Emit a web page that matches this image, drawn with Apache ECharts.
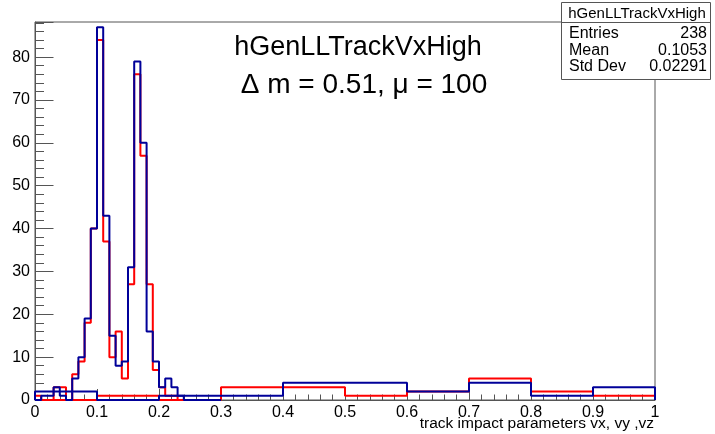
<!DOCTYPE html>
<html>
<head>
<meta charset="utf-8">
<script src="https://cdn.jsdelivr.net/npm/echarts@6/dist/echarts.min.js"></script>
<style>
  html, body { margin: 0; padding: 0; background: #fff; }
  #chart { width: 715px; height: 434px; }
</style>
</head>
<body>
<div id="chart"></div>
<script>
// Fine binning: 0.01 wide bins from 0 to 0.30
const fineEdges = [0, 0.01, 0.02, 0.03, 0.04, 0.05, 0.06, 0.07, 0.08, 0.09,
  0.10, 0.11, 0.12, 0.13, 0.14, 0.15, 0.16, 0.17, 0.18, 0.19,
  0.20, 0.21, 0.22, 0.23, 0.24, 0.25, 0.26, 0.27, 0.28, 0.29, 0.30];
const blueFine = [0, 1, 1, 3, 1, 0, 5, 10, 19, 40,
  87, 43, 15, 8, 9, 31, 79, 60, 16, 9,
  3, 5, 3, 1, 0, 0, 0, 0, 0, 0];
const redFine = [1, 0, 0, 3, 3, 0, 6, 9, 18, 40,
  84, 37, 10, 16, 5, 27, 76, 57, 27, 7,
  3, 1, 1, 0, 0, 0, 0, 0, 0, 0];

// Coarse binning: 0.1 wide bins from 0 to 1
const coarseEdges = [0, 0.1, 0.2, 0.3, 0.4, 0.5, 0.6, 0.7, 0.8, 0.9, 1.0];
const blueCoarse = [2, 0, 1, 1, 4, 4, 2, 4, 1, 3];
const redCoarse = [0, 1, 0, 3, 3, 1, 2, 5, 2, 1];

// Axis ranges and tick labels
const xTicks = [0, 0.1, 0.2, 0.3, 0.4, 0.5, 0.6, 0.7, 0.8, 0.9, 1];
const yMax = 88.2;
const yTicks = [0, 10, 20, 30, 40, 50, 60, 70, 80];

// Stats box text
const statsTitle = 'hGenLLTrackVxHigh';
const statsRows = [['Entries', '238'], ['Mean', '0.1053'], ['Std Dev', '0.02291']];

// Turn bin edges + contents into the outline of a step histogram
function stepOutline(edges, counts) {
  const pts = [[edges[0], 0]];
  counts.forEach(function (c, i) {
    pts.push([edges[i], c]);
    pts.push([edges[i + 1], c]);
  });
  pts.push([edges[edges.length - 1], 0]);
  return pts;
}

const FONT = '"Liberation Sans", Arial, Helvetica, sans-serif';
const RED = '#ff0000';
const BLUE = '#000099';
const FRAME = '#555';

function histSeries(name, edges, counts, color, z) {
  return {
    name: name,
    type: 'line',
    data: stepOutline(edges, counts),
    symbol: 'none',
    showSymbol: false,
    lineStyle: { color: color, width: 2 },
    z: z,
    animation: false,
    clip: true
  };
}

const chart = echarts.init(document.getElementById('chart'), null, { renderer: 'canvas' });

// Frame in pixels
const gridL = 35, gridR = 655, gridT = 22, gridB = 400;

function statsText(x, y, text, align, size) {
  return {
    type: 'text', x: x, y: y,
    style: { text: text, font: size + 'px ' + FONT, fill: '#000', align: align, verticalAlign: 'middle' }
  };
}

const statsChildren = [
  {
    type: 'rect', shape: { x: 561.5, y: 2.5, width: 149, height: 77 },
    style: { fill: '#fff', stroke: FRAME, lineWidth: 1 }
  },
  {
    type: 'line', shape: { x1: 561.5, y1: 22.5, x2: 710.5, y2: 22.5 },
    style: { stroke: FRAME, lineWidth: 1 }
  },
  statsText(637, 14, statsTitle, 'center', 15)
];
statsRows.forEach(function (row, i) {
  statsChildren.push(statsText(569, 34 + i * 16.2, row[0], 'left', 16));
  statsChildren.push(statsText(707, 34 + i * 16.2, row[1], 'right', 16));
});

chart.setOption({
  backgroundColor: '#fff',
  animation: false,
  grid: {
    left: gridL, right: 715 - gridR, top: gridT, bottom: 434 - gridB,
    show: true, borderColor: FRAME, borderWidth: 1, backgroundColor: 'transparent'
  },
  xAxis: {
    type: 'value', min: xTicks[0], max: xTicks[xTicks.length - 1], interval: 0.1,
    axisLine: { show: true, lineStyle: { color: FRAME, width: 1 } },
    axisTick: { show: true, inside: true, length: 11, lineStyle: { color: FRAME } },
    minorTick: { show: true, splitNumber: 5, length: 5.5, lineStyle: { color: FRAME } },
    splitLine: { show: false },
    axisLabel: {
      show: true, fontSize: 16, fontFamily: FONT, color: '#000', margin: 5,
      formatter: function (v) { return String(+v.toFixed(2)); }
    }
  },
  yAxis: [
    {
      type: 'value', min: 0, max: yMax, interval: 10, position: 'left',
      axisLine: { show: true, lineStyle: { color: FRAME, width: 1 } },
      axisTick: { show: true, inside: true, length: 18.5, lineStyle: { color: FRAME } },
      splitLine: { show: false },
      axisLabel: {
        show: true, fontSize: 16, fontFamily: FONT, color: '#000', margin: 5,
        formatter: function (v) { return yTicks.indexOf(v) >= 0 ? String(v) : ''; }
      }
    },
    {
      type: 'value', min: 0, max: yMax, interval: 2, position: 'left', offset: 0,
      axisLine: { show: false },
      axisTick: { show: true, inside: true, length: 9, lineStyle: { color: FRAME } },
      splitLine: { show: false },
      axisLabel: { show: false }
    }
  ],
  series: [
    histSeries('red coarse', coarseEdges, redCoarse, RED, 2),
    histSeries('red fine', fineEdges, redFine, RED, 3),
    histSeries('blue coarse', coarseEdges, blueCoarse, BLUE, 4),
    histSeries('blue fine', fineEdges, blueFine, BLUE, 5)
  ],
  graphic: [
    {
      type: 'text', x: 358, y: 48, z: 10,
      style: { text: 'hGenLLTrackVxHigh', font: '27px ' + FONT, fill: '#000', align: 'center', verticalAlign: 'middle' }
    },
    {
      type: 'text', x: 364, y: 85, z: 10,
      style: { text: 'Δ m = 0.51, μ = 100', font: '28px ' + FONT, fill: '#000', align: 'center', verticalAlign: 'middle' }
    },
    {
      type: 'text', x: 654, y: 424, z: 10,
      style: { text: 'track impact parameters vx, vy ,vz', font: '15.5px ' + FONT, fill: '#000', align: 'right', verticalAlign: 'middle' }
    },
    { type: 'group', z: 20, children: statsChildren }
  ]
});
</script>
</body>
</html>
